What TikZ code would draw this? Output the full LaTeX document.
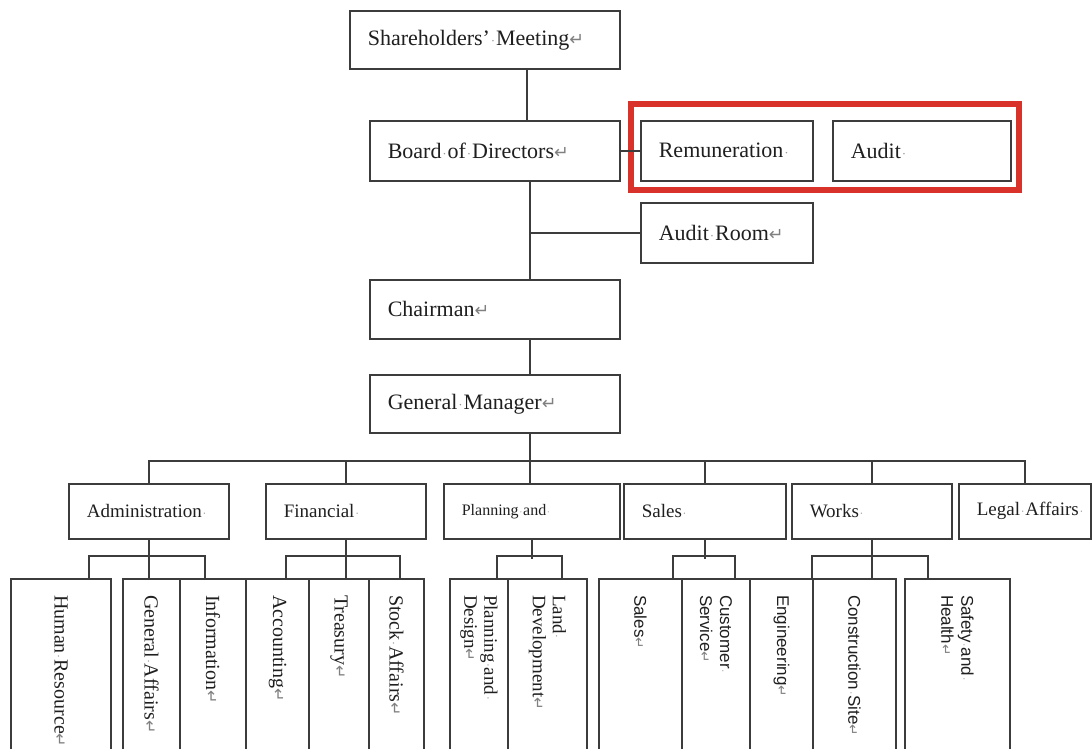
\documentclass[tikz,border=0pt]{standalone}
\usepackage{fontspec}
\setmainfont{Liberation Serif}
\newfontfamily\sansf{Liberation Sans}
\newfontfamily\symf{DejaVu Sans}
\definecolor{ln}{HTML}{3C3C3C}
\definecolor{redbox}{HTML}{D8322A}
\newcommand\rmark{\textcolor{black!50}{\scalebox{0.8}{\symf ↵}}}
\newcommand\smark{\makebox[0.28em]{\textcolor{black!40}{\scalebox{0.6}{·}}}}
\tikzset{
  box/.style={draw=ln, line width=1.6pt, rectangle, inner xsep=18pt, inner ysep=0pt, align=left, text=black!88},
  lvlone/.style={box, font=\fontsize{22}{26}\selectfont},
  lvltwo/.style={box, font=\fontsize{19}{22}\selectfont},
  lvlthree/.style={box, rotate=-90, minimum width=220pt, text width=188pt, inner xsep=16pt, font=\fontsize{20}{21}\selectfont},
  sansthree/.style={font=\sansf\fontsize{17}{20}\selectfont},
  serthree/.style={font=\fontsize{19}{20}\selectfont},
  conn/.style={draw=ln, line width=1.5pt},
}
\newcommand\orgbox[7]{%
  \pgfmathsetmacro\obw{#5-#3}\pgfmathsetmacro\obh{#6-#4}\pgfmathsetmacro\otw{#5-#3-36}%
  \node[#1, anchor=north west, minimum width=\obw pt, minimum height=\obh pt, text width=\otw pt] (#2) at (#3,#4) {#7};}
\newcommand\colbox[5]{%
  \pgfmathsetmacro\colw{#4-#3}\pgfmathsetmacro\colx{(#3+#4)/2}%
  \node[lvlthree,#1, minimum height=\colw pt] (#2) at (\colx,689) {#5};}
\begin{document}
\begin{tikzpicture}[x=1pt,y=-1pt]
\useasboundingbox (0,0) rectangle (1092,749);
\clip (0,0) rectangle (1092,749);
\fill[white] (0,0) rectangle (1092,749);
% level 1
\orgbox{lvlone}{sh}{349}{10}{619}{68}{Shareholders’\smark Meeting\rmark}
\orgbox{lvlone}{bd}{369}{120}{619}{180}{Board\smark of\smark Directors\rmark}
\orgbox{lvlone}{rem}{640}{120}{812}{180}{Remuneration\smark}
\orgbox{lvlone}{aud}{832}{120}{1010}{180}{Audit\smark}
\orgbox{lvlone}{ar}{640}{202}{812}{262}{Audit\smark Room\rmark}
\orgbox{lvlone}{ch}{369}{279}{619}{338}{Chairman\rmark}
\orgbox{lvlone}{gm}{369}{374}{619}{432}{General\smark Manager\rmark}
\draw[draw=redbox, line width=6pt] (631,104) rectangle (1019,190);
% level 2
\orgbox{lvltwo}{adm}{68}{483}{228}{538}{Administration\smark}
\orgbox{lvltwo}{fin}{265}{483}{425}{538}{Financial\smark}
\orgbox{lvltwo,font=\fontsize{16}{20}\selectfont}{pln}{443}{483}{619}{538}{Planning\smark and\smark}
\orgbox{lvltwo}{sal}{623}{483}{785}{538}{Sales\smark}
\orgbox{lvltwo}{wrk}{791}{483}{951}{538}{Works\smark}
\orgbox{lvltwo}{lgl}{958}{483}{1090}{538}{Legal\smark Affairs\smark}
% level 3
\colbox{}{hr}{11}{111}{Human\smark Resource\rmark}
\colbox{}{ga}{123}{180}{General\smark Affairs\rmark}
\colbox{}{info}{180}{246}{Information\rmark}
\colbox{}{acc}{246}{309}{Accounting\rmark}
\colbox{}{tre}{309}{369}{Treasury\rmark}
\colbox{}{stk}{369}{424}{Stock\smark Affairs\rmark}
\colbox{serthree}{pd}{450}{508}{Planning\smark and\smark\\Design\rmark}
\colbox{serthree}{ld}{508}{587}{Land\smark\\Development\rmark}
\colbox{sansthree}{ss}{599}{682}{Sales\rmark}
\colbox{sansthree}{cs}{682}{750}{Customer\smark\\Service\rmark}
\colbox{sansthree}{eng}{750}{813}{Engineering\rmark}
\colbox{sansthree}{con}{813}{896}{Construction\smark Site\rmark}
\colbox{sansthree}{sfh}{905}{1010}{Safety\smark and\smark\\Health\rmark}
% spine
\coordinate (sp1) at (527,0);
\coordinate (sp) at (530,0);
\coordinate (bus) at (0,461);
\draw[conn] (sh.south -| sp1) -- (bd.north -| sp1);
\draw[conn] (bd.east) -- (rem.west);
\draw[conn] (bd.south -| sp) -- (ch.north -| sp);
\coordinate (arj) at (ar.west -| sp);
\draw[conn] (arj) -- (ar.west);
\draw[conn] (ch.south -| sp) -- (gm.north -| sp);
\draw[conn] (gm.south -| sp) -- (bus -| sp) -- (pln.north -| sp);
\draw[conn] (adm.north) -- (adm.north |- bus) -- (lgl.north |- bus) -- (lgl.north);
\draw[conn] (fin.north |- bus) -- (fin.north);
\draw[conn] (sal.north |- bus) -- (sal.north);
\draw[conn] (wrk.north |- bus) -- (wrk.north);
% level 3 connectors
\draw[conn] (adm.south) -- (adm.south |- ga.west);
\draw[conn] ([xshift=28pt]hr.west) -- ++(0,-22) -| ([xshift=-8pt]info.west);
\draw[conn] (fin.south) -- (fin.south |- tre.west);
\draw[conn] ([xshift=8.5pt]acc.west) -- ++(0,-22) -| ([xshift=3.5pt]stk.west);
\draw[conn] (pln.south) -- ++(0,19);
\draw[conn] ([xshift=18pt]pd.west) -- ++(0,-22) -| ([xshift=14.5pt]ld.west);
\draw[conn] (sal.south) -- ++(0,19);
\draw[conn] ([xshift=32.5pt]ss.west) -- ++(0,-22) -| ([xshift=19pt]cs.west);
\draw[conn] (wrk.south) -- (wrk.south |- con.west);
\draw[conn] ([xshift=30.5pt]eng.west) -- ++(0,-22) -| ([xshift=-29.5pt]sfh.west);
\end{tikzpicture}
\end{document}
